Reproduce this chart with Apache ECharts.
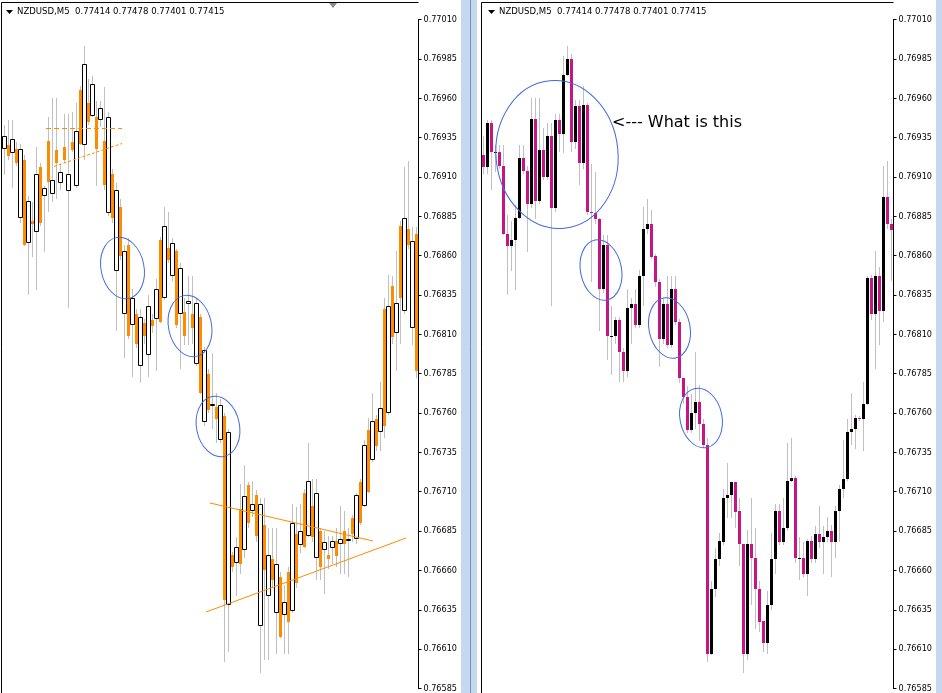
<!DOCTYPE html>
<html>
<head>
<meta charset="utf-8">
<script src="https://cdn.jsdelivr.net/npm/echarts@6/dist/echarts.min.js"></script>
<style>
  html, body { margin: 0; padding: 0; background: #fff; }
  #chart { width: 942px; height: 693px; }
</style>
</head>
<body>
<div id="chart"></div>
<script>
// prices are kept in points (1 point = 0.00001)
var priceMin = 76585
var priceMax = 77010
var priceStep = 25
var headerText = 'NZDUSD,M5  0.77414 0.77478 0.77401 0.77415'
var noteText = '<--- What is this'

// left window: [open, close, low, high], even slots hollow bars, odd slots orange bars
var leftBars = [
  [76928, 76936, 76911, 76943], [76930, 76923, 76921, 76946], [76925, 76934, 76903, 76946], [76928, 76919, 76917, 76932],
  [76884, 76928, 76881, 76931], [76921, 76867, 76866, 76924], [76868, 76895, 76835, 76898], [76882, 76880, 76859, 76894],
  [76875, 76912, 76838, 76929], [76916, 76881, 76879, 76919], [76898, 76903, 76862, 76904], [76933, 76907, 76888, 76948],
  [76899, 76908, 76894, 76960], [76927, 76919, 76896, 76960], [76906, 76913, 76902, 76918], [76929, 76921, 76919, 76950],
  [76901, 76912, 76827, 76950], [76932, 76927, 76926, 76951], [76904, 76939, 76903, 76957], [76965, 76931, 76930, 76968],
  [76930, 76982, 76921, 76993], [76957, 76945, 76943, 76972], [76949, 76969, 76948, 76974], [76948, 76928, 76904, 76958],
  [76946, 76954, 76942, 76958], [76933, 76905, 76902, 76967], [76887, 76948, 76885, 76951], [76912, 76884, 76881, 76915],
  [76850, 76902, 76812, 76906], [76891, 76860, 76857, 76896], [76823, 76863, 76795, 76867], [76867, 76809, 76807, 76871],
  [76816, 76833, 76783, 76839], [76823, 76804, 76801, 76826], [76790, 76821, 76779, 76826], [76817, 76809, 76804, 76820],
  [76797, 76828, 76783, 76835], [76819, 76815, 76811, 76823], [76820, 76839, 76787, 76845], [76870, 76818, 76817, 76872],
  [76833, 76879, 76832, 76891], [76865, 76857, 76855, 76888], [76847, 76868, 76844, 76871], [76863, 76816, 76814, 76864],
  [76823, 76852, 76788, 76855], [76824, 76809, 76803, 76833], [76829, 76831, 76803, 76847], [76823, 76814, 76804, 76847],
  [76791, 76830, 76790, 76833], [76821, 76773, 76772, 76823], [76754, 76800, 76752, 76802], [76785, 76762, 76760, 76788],
  [76765, 76766, 76750, 76798], [76764, 76756, 76741, 76773], [76743, 76765, 76741, 76769], [76758, 76641, 76602, 76760],
  [76638, 76748, 76608, 76750], [76670, 76662, 76659, 76672], [76665, 76675, 76644, 76681], [76699, 76664, 76658, 76715],
  [76673, 76707, 76668, 76727], [76714, 76690, 76687, 76716], [76698, 76702, 76694, 76717], [76708, 76682, 76678, 76711],
  [76625, 76702, 76595, 76706], [76689, 76660, 76603, 76706], [76644, 76670, 76603, 76687], [76667, 76654, 76649, 76687],
  [76633, 76664, 76607, 76687], [76656, 76618, 76617, 76659], [76632, 76640, 76607, 76651], [76659, 76627, 76607, 76662],
  [76634, 76690, 76633, 76702], [76683, 76652, 76649, 76700], [76676, 76685, 76671, 76702], [76709, 76675, 76674, 76712],
  [76682, 76717, 76681, 76741], [76701, 76681, 76678, 76718], [76668, 76709, 76654, 76718], [76685, 76662, 76654, 76687],
  [76673, 76678, 76645, 76685], [76670, 76667, 76661, 76682], [76674, 76679, 76664, 76682], [76679, 76669, 76662, 76687],
  [76677, 76680, 76658, 76701], [76685, 76677, 76658, 76698], [76679, 76680, 76656, 76687], [76693, 76683, 76678, 76695],
  [76680, 76708, 76677, 76709], [76716, 76690, 76689, 76718], [76701, 76740, 76700, 76743], [76749, 76710, 76709, 76757],
  [76730, 76755, 76729, 76773], [76756, 76739, 76736, 76759], [76748, 76763, 76736, 76780], [76826, 76752, 76744, 76833],
  [76760, 76828, 76759, 76848], [76841, 76808, 76804, 76847], [76811, 76830, 76787, 76863], [76879, 76833, 76804, 76882],
  [76825, 76884, 76823, 76916], [76877, 76867, 76864, 76920], [76814, 76869, 76803, 76878], [76874, 76787, 76782, 76878]
]

// right window: [open, close, low, high]
var rightBars = [
  [76924, 76916, 76912, 76936], [76916, 76944, 76912, 76946], [76944, 76926, 76902, 76946], [76926, 76926, 76913, 76930],
  [76926, 76917, 76915, 76930], [76917, 76874, 76873, 76930], [76874, 76866, 76835, 76886], [76866, 76870, 76850, 76882],
  [76870, 76884, 76838, 76892], [76884, 76922, 76883, 76930], [76922, 76914, 76912, 76930], [76914, 76893, 76862, 76917],
  [76893, 76947, 76890, 76960], [76947, 76895, 76883, 76960], [76895, 76927, 76893, 76960], [76927, 76910, 76908, 76941],
  [76910, 76936, 76908, 76944], [76936, 76890, 76828, 76944], [76890, 76946, 76888, 76950], [76946, 76937, 76926, 76950],
  [76937, 76975, 76925, 76987], [76975, 76985, 76974, 76993], [76985, 76932, 76926, 76988], [76932, 76955, 76928, 76959],
  [76955, 76919, 76905, 76959], [76919, 76956, 76915, 76968], [76956, 76888, 76886, 76957], [76888, 76887, 76843, 76918],
  [76887, 76883, 76880, 76913], [76883, 76839, 76812, 76884], [76839, 76867, 76836, 76873], [76867, 76809, 76794, 76873],
  [76809, 76809, 76784, 76828], [76809, 76819, 76804, 76821], [76819, 76799, 76780, 76821], [76799, 76787, 76780, 76801],
  [76787, 76827, 76783, 76839], [76827, 76829, 76804, 76833], [76829, 76816, 76814, 76839], [76816, 76847, 76814, 76851],
  [76847, 76877, 76828, 76891], [76877, 76880, 76874, 76896], [76880, 76859, 76858, 76889], [76860, 76843, 76840, 76861],
  [76843, 76807, 76789, 76845], [76807, 76829, 76804, 76833], [76829, 76803, 76801, 76847], [76803, 76839, 76801, 76847],
  [76839, 76818, 76816, 76847], [76818, 76782, 76779, 76820], [76782, 76770, 76766, 76782], [76770, 76749, 76747, 76777],
  [76749, 76760, 76747, 76772], [76760, 76767, 76750, 76799], [76767, 76753, 76742, 76778], [76753, 76740, 76738, 76756],
  [76740, 76607, 76602, 76744], [76607, 76648, 76606, 76653], [76648, 76667, 76643, 76674], [76667, 76679, 76663, 76684],
  [76678, 76706, 76676, 76712], [76706, 76708, 76693, 76728], [76708, 76716, 76693, 76716], [76716, 76697, 76687, 76716],
  [76698, 76677, 76663, 76706], [76677, 76607, 76595, 76677], [76607, 76677, 76603, 76686], [76677, 76668, 76638, 76706],
  [76668, 76648, 76623, 76687], [76648, 76627, 76621, 76653], [76628, 76614, 76608, 76628], [76614, 76638, 76607, 76647],
  [76638, 76667, 76635, 76684], [76667, 76698, 76658, 76702], [76698, 76678, 76676, 76702], [76678, 76687, 76676, 76706],
  [76687, 76717, 76685, 76741], [76717, 76719, 76716, 76744], [76719, 76668, 76665, 76720], [76668, 76668, 76654, 76681],
  [76668, 76658, 76656, 76678], [76658, 76679, 76644, 76680], [76679, 76667, 76665, 76682], [76667, 76683, 76665, 76688],
  [76683, 76678, 76674, 76701], [76678, 76681, 76658, 76688], [76681, 76685, 76678, 76694], [76685, 76678, 76656, 76689],
  [76678, 76698, 76668, 76701], [76698, 76712, 76678, 76714], [76712, 76718, 76706, 76743], [76718, 76748, 76717, 76756],
  [76748, 76750, 76740, 76773], [76750, 76757, 76737, 76759], [76757, 76756, 76755, 76758], [76756, 76766, 76736, 76780],
  [76766, 76846, 76765, 76847], [76846, 76823, 76819, 76848], [76823, 76847, 76788, 76863], [76847, 76825, 76803, 76853],
  [76825, 76897, 76818, 76917], [76897, 76880, 76877, 76920], [76880, 76876, 76844, 76883]
]

function seriesData(bars) {
  return bars.map(function (b, i) { return [i, b[0], b[1], b[2], b[3]] })
}

function slots(bars) {
  return bars.map(function (b, i) { return String(i) })
}

function barParts(api) {
  var i = api.value(0)
  var pO = api.coord([i, api.value(1)])
  var pC = api.coord([i, api.value(2)])
  var pL = api.coord([i, api.value(3)])
  var pH = api.coord([i, api.value(4)])
  var cx = Math.floor(pO[0]) + 0.5
  var top = Math.round(Math.min(pO[1], pC[1]))
  var h = Math.max(Math.round(Math.max(pO[1], pC[1])) - top, 1)
  var wick = {
    type: 'line',
    shape: { x1: cx, y1: Math.round(pH[1]), x2: cx, y2: Math.round(pL[1]) },
    style: { stroke: '#c0c0c0', lineWidth: 1 }
  }
  return { i: i, cx: cx, top: top, h: h, wick: wick, up: api.value(2) >= api.value(1) }
}

function renderLeft(params, api) {
  var p = barParts(api)
  var body
  if (p.i % 2 === 0) {
    body = { type: 'rect', shape: { x: p.cx - 2, y: p.top + 0.5, width: 4, height: Math.max(p.h - 1, 1) },
      style: { fill: '#ffffff', stroke: '#000000', lineWidth: 1 } }
  } else {
    body = { type: 'rect', shape: { x: p.cx - 1.5, y: p.top, width: 3, height: p.h },
      style: { fill: '#ff8c00' } }
  }
  return { type: 'group', children: [p.wick, body] }
}

function renderRight(params, api) {
  var p = barParts(api)
  var body = { type: 'rect', shape: { x: p.cx - 1.5, y: p.top, width: 3, height: p.h },
    style: { fill: p.up ? '#000000' : '#c71585' } }
  return { type: 'group', children: [p.wick, body] }
}

var fontUi = "'DejaVu Sans Condensed', 'Liberation Sans', sans-serif"
var blue = '#4169e1'
var orange = '#ff8c00'

function priceAxis(gridIndex) {
  return {
    gridIndex: gridIndex,
    type: 'value',
    position: 'right',
    min: priceMin,
    max: priceMax,
    interval: priceStep,
    splitLine: { show: false },
    axisLine: { show: true, lineStyle: { color: '#000', width: 1 } },
    axisTick: { show: true, length: 3, lineStyle: { color: '#000' } },
    axisLabel: {
      margin: 5,
      color: '#000',
      fontSize: 9,
      fontFamily: fontUi,
      formatter: function (v) { return (v / 100000).toFixed(5) }
    }
  }
}

function ellipse(cx, cy, rx, ry, rot) {
  return { type: 'ellipse', x: cx, y: cy, rotation: rot, z: 100, silent: true,
    shape: { cx: 0, cy: 0, rx: rx, ry: ry },
    style: { fill: 'none', stroke: blue, lineWidth: 1 } }
}

function seg(x1, y1, x2, y2, dash) {
  return { type: 'line', z: 100, silent: true,
    shape: { x1: x1, y1: y1, x2: x2, y2: y2 },
    style: { stroke: orange, lineWidth: 1, lineDash: dash || null } }
}

function frameLine(x1, y1, x2, y2, color) {
  return { type: 'line', z: 50, silent: true,
    shape: { x1: x1, y1: y1, x2: x2, y2: y2 },
    style: { stroke: color || '#000', lineWidth: 1 } }
}

function header(x) {
  return [
    { type: 'polygon', z: 60, silent: true, shape: { points: [[x + 1, 10], [x + 8, 10], [x + 4.5, 14]] }, style: { fill: '#000' } },
    { type: 'text', z: 60, silent: true, x: x + 12, y: 12,
      style: { text: headerText, font: '9.5px ' + fontUi, fill: '#000', textVerticalAlign: 'middle' } }
  ]
}

var myChart = echarts.init(document.getElementById('chart'))
var option = {
  animation: false,
  backgroundColor: '#ffffff',
  grid: [
    { left: 2.5, top: 19.5, width: 416, height: 672.4 },
    { left: 481.5, top: 19.5, width: 412, height: 672.4 }
  ],
  xAxis: [
    { gridIndex: 0, type: 'category', data: slots(leftBars), show: false },
    { gridIndex: 1, type: 'category', data: slots(rightBars), show: false }
  ],
  yAxis: [priceAxis(0), priceAxis(1)],
  series: [
    {
      type: 'custom', xAxisIndex: 0, yAxisIndex: 0, silent: true,
      renderItem: renderLeft, encode: { x: 0, y: [1, 2, 3, 4] },
      data: seriesData(leftBars)
    },
    {
      type: 'custom', xAxisIndex: 1, yAxisIndex: 1, silent: true,
      renderItem: renderRight, encode: { x: 0, y: [1, 2, 3, 4] },
      data: seriesData(rightBars)
    }
  ],
  graphic: {
    elements: [
      // window separators
      { type: 'rect', z: 40, silent: true, shape: { x: 461, y: 0, width: 16, height: 693 }, style: { fill: '#c4d8ee' } },
      frameLine(470.5, 0, 470.5, 693, '#6f8fba'),
      { type: 'rect', z: 40, silent: true, shape: { x: 936, y: 0, width: 6, height: 693 }, style: { fill: '#c4d8ee' } },
      // window frames
      frameLine(1.5, 2.5, 418.5, 2.5),
      frameLine(1.5, 2.5, 1.5, 693),
      frameLine(481.5, 2.5, 893.5, 2.5),
      frameLine(481.5, 2.5, 481.5, 693),
      { type: 'polygon', z: 60, silent: true, shape: { points: [[329, 3], [337, 3], [333, 8]] }, style: { fill: '#8c8c8c' } }
    ].concat(header(5), header(487), [
      // drawn objects, left window
      seg(46, 128.5, 122, 128.5, [5, 3]),
      seg(54, 166.5, 122, 143.5, [3, 2]),
      seg(210, 503, 373, 541),
      seg(206, 612, 406, 538),
      ellipse(122.5, 268, 21.5, 31, 0.2),
      ellipse(190, 326, 21.5, 31, 0.2),
      ellipse(218, 426.5, 21.5, 30.5, 0.2),
      // drawn objects, right window
      ellipse(557, 154.5, 61, 74, 0.1),
      ellipse(601, 270, 20.5, 30.5, 0.2),
      ellipse(669.5, 328, 20.5, 30.5, 0.2),
      ellipse(701, 418, 21, 30, 0.2),
      { type: 'text', z: 100, silent: true, x: 612, y: 123,
        style: { text: noteText, font: '16px "DejaVu Sans", sans-serif', fill: '#000', textVerticalAlign: 'middle' } }
    ])
  }
}
myChart.setOption(option)
</script>
</body>
</html>
